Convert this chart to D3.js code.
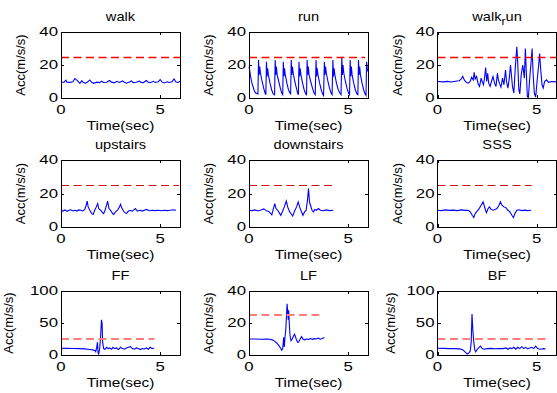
<!DOCTYPE html>
<html>
<head>
<meta charset="utf-8">
<script src="https://cdn.jsdelivr.net/npm/d3@7"></script>
<style>
  body { margin: 0; background: #fff; }
  svg { display: block; }
  text { font-family: "Liberation Sans", Arial, sans-serif; fill: #000; }
</style>
</head>
<body>
<svg id="chart"></svg>
<script>
// Titres des sous-graphiques
const titles = ["walk", "run", "walk_run", "upstairs", "downstairs", "SSS", "FF", "LF", "BF"];
const yMax = [40, 40, 40, 40, 40, 40, 100, 40, 100];
const yTicks40 = [0, 20, 40];
const yTicks100 = [0, 50, 100];
const xTicks = [0, 5];
const threshold = 25;
const thresholdEnd = [6, 5.85, 6, 5.95, 4.25, 4.75, 4.7, 3.55, 5.45];

// Signaux [temps (s), accélération (m/s/s)]
const walk = [[0,9.5],[0.15,9.6],[0.25,10.8],[0.3,9.6],[0.45,9.5],[0.6,9.8],[0.7,11.8],[0.78,11.0],[0.85,10.2],[0.95,8.9],[1.05,10.5],[1.12,9.4],[1.25,9.0],[1.35,9.8],[1.45,10.9],[1.55,9.5],[1.65,8.9],[1.8,9.6],[1.95,9.3],[2.05,10.2],[2.15,9.4],[2.3,9.5],[2.45,10.6],[2.55,9.6],[2.7,9.2],[2.8,10.1],[2.95,9.4],[3.1,10.3],[3.2,9.5],[3.3,9.0],[3.45,9.7],[3.55,10.3],[3.65,9.3],[3.8,9.5],[3.95,10.2],[4.05,9.4],[4.15,9.3],[4.3,10.6],[4.4,9.6],[4.5,9.3],[4.65,10.1],[4.75,9.4],[4.9,9.8],[5.0,11.2],[5.1,9.6],[5.2,9.1],[5.35,9.8],[5.45,9.4],[5.6,9.9],[5.7,11.5],[5.8,9.7],[5.9,9.4],[6.0,10.2]];

const run = [[0,19],[0.03,17],[0.08,13],[0.15,9],[0.25,5],[0.33,3],[0.45,2.5],
  [0.48,23],[0.51,14],[0.54,19],[0.58,15],[0.66,10],[0.74,6],[0.81,3],[0.85,2],
  [0.88,22],[0.91,13],[0.94,18],[0.98,14],[1.06,9],[1.14,5],[1.22,2.5],[1.29,2],
  [1.32,23],[1.35,14],[1.38,19],[1.42,14],[1.5,10],[1.58,6],[1.65,3],[1.7,2],
  [1.73,22],[1.76,13],[1.79,18],[1.83,14],[1.91,9],[1.99,5],[2.06,3],[2.1,2.5],
  [2.13,23],[2.16,14],[2.19,19],[2.23,15],[2.31,10],[2.39,6],[2.45,3],[2.49,2],
  [2.52,22],[2.55,13],[2.58,18],[2.62,14],[2.7,9],[2.78,5],[2.86,2.5],[2.9,2],
  [2.93,23],[2.96,14],[2.99,19],[3.03,14],[3.11,10],[3.2,6],[3.28,3],[3.34,2],
  [3.38,23],[3.41,13],[3.44,18],[3.48,14],[3.56,9],[3.64,5],[3.71,2.5],[3.76,1.5],
  [3.8,22],[3.83,14],[3.86,19],[3.9,15],[3.98,10],[4.06,6],[4.14,3],[4.19,2],
  [4.23,23],[4.26,13],[4.29,18],[4.33,14],[4.41,9],[4.5,5],[4.58,3],[4.64,2],
  [4.68,25],[4.71,14],[4.74,20],[4.78,15],[4.86,10],[4.94,6],[5.02,3],[5.07,2],
  [5.1,23],[5.13,13],[5.16,19],[5.2,14],[5.28,9],[5.36,5],[5.44,2.5],[5.49,2],
  [5.52,23],[5.55,14],[5.58,19],[5.62,14],[5.7,9],[5.78,5],[5.85,2.5],[5.9,1.5],
  [5.93,22],[5.96,18],[6.0,16]];

const walkRun = [[0,10],[0.3,9.8],[0.5,10.1],[0.7,9.7],[0.9,10.2],[1.1,10.5],[1.2,11.5],[1.27,13.2],[1.35,11],[1.45,9.5],[1.55,9],[1.65,10],[1.72,12.5],[1.8,11],[1.85,15.5],[1.9,11.5],[1.97,13],[2.05,8.5],[2.12,7],[2.2,12],[2.25,10],[2.32,8],[2.38,13],[2.43,18.5],[2.48,10],[2.53,15],[2.58,9],[2.65,7],[2.72,10],[2.8,13],[2.88,9],[2.95,7],[3.02,15],[3.07,11],[3.12,9],[3.2,6.5],[3.28,12],[3.35,8],[3.43,17],[3.48,10],[3.55,6],[3.62,12],[3.68,20],[3.72,15],[3.78,7],[3.85,3],[3.92,18],[4.0,31],[4.05,20],[4.1,5],[4.15,2.5],[4.22,14],[4.3,20],[4.38,12],[4.43,30],[4.48,15],[4.53,1],[4.58,0],[4.65,12],[4.72,22],[4.77,30],[4.82,15],[4.88,3],[4.95,0.5],[5.02,10],[5.1,20],[5.15,27],[5.2,18],[5.27,8],[5.33,6],[5.4,10],[5.5,11],[5.6,9.5],[5.75,10],[5.9,9.8],[6.0,10]];

const upstairs = [[0,10],[0.1,9.5],[0.2,10.2],[0.3,9.4],[0.4,10],[0.5,10.3],[0.6,9.6],[0.7,10],[0.8,9.5],[0.9,10.2],[1.0,10],[1.1,9.6],[1.2,10.5],[1.27,13],[1.32,15.5],[1.37,12],[1.45,10],[1.55,8],[1.62,7.5],[1.7,10],[1.78,12],[1.85,14],[1.9,11],[2.0,10],[2.1,8.5],[2.15,8],[2.22,10],[2.3,13],[2.35,15.5],[2.42,11],[2.5,10],[2.6,8],[2.65,7.5],[2.75,9],[2.85,10],[2.95,12],[3.0,13.5],[3.08,11],[3.18,9],[3.3,8],[3.4,9.5],[3.5,9.8],[3.6,9.5],[3.75,11],[3.85,9.5],[4.0,10],[4.1,9.5],[4.2,10],[4.3,10.5],[4.45,9.7],[4.6,10],[4.75,9.8],[4.9,10],[5.05,9.7],[5.2,10],[5.35,9.8],[5.5,10],[5.65,10.3],[5.8,10]];

const downstairs = [[0,10],[0.15,9.8],[0.3,10.2],[0.45,9.6],[0.6,10.1],[0.75,10.8],[0.82,10.2],[0.9,9.5],[1.0,9.2],[1.1,8],[1.15,7.3],[1.22,10.5],[1.3,14],[1.36,11],[1.45,10],[1.55,8],[1.6,7],[1.68,9],[1.78,12],[1.88,15.5],[1.95,12],[2.05,9],[2.15,7.5],[2.2,6.5],[2.3,9.5],[2.4,12],[2.48,15],[2.55,12],[2.65,9],[2.72,7],[2.8,9],[2.88,10],[2.95,16],[3.0,23],[3.05,15],[3.1,13],[3.18,10],[3.25,9],[3.32,10.5],[3.4,10],[3.5,11],[3.6,10],[3.75,9.7],[3.9,10.2],[4.05,9.8],[4.25,10]];

const sss = [[0,10],[0.2,9.8],[0.4,10.2],[0.6,9.9],[0.8,10.1],[1.0,9.8],[1.2,10.2],[1.4,9.9],[1.55,10],[1.65,9],[1.75,7],[1.83,5.6],[1.9,8],[2.0,9.5],[2.1,11],[2.2,13],[2.3,15],[2.35,13],[2.42,10],[2.47,8.5],[2.55,11],[2.62,12],[2.7,10.5],[2.8,10],[2.9,10.5],[3.0,11],[3.1,13],[3.17,15],[3.25,13],[3.35,12],[3.45,11.5],[3.55,10],[3.65,9],[3.75,7],[3.83,5.6],[3.9,8],[4.0,10],[4.1,10.3],[4.25,9.8],[4.4,10.1],[4.55,9.8],[4.72,10]];

const ff = [[0,10.5],[0.3,10.4],[0.6,10.2],[0.9,10],[1.2,9.5],[1.45,8.5],[1.6,8],[1.7,7],[1.75,5],[1.8,12],[1.84,20],[1.87,3],[1.9,1.5],[1.95,10],[2.0,30],[2.04,55],[2.07,50],[2.1,20],[2.15,10],[2.22,9],[2.3,12],[2.38,10],[2.45,11],[2.55,9],[2.62,12],[2.7,10],[2.8,11],[2.9,8.5],[3.0,12],[3.1,10],[3.2,9],[3.3,11],[3.4,12],[3.5,13],[3.6,10],[3.7,9],[3.8,11],[3.9,10],[4.0,8.5],[4.1,10],[4.2,9.5],[4.3,11],[4.4,9],[4.5,12],[4.6,10],[4.7,11]];

const lf = [[0,10],[0.3,10],[0.6,9.8],[0.9,10],[1.05,9.8],[1.2,9.3],[1.3,8.5],[1.4,7.5],[1.5,6],[1.58,4.5],[1.65,3],[1.7,4],[1.75,11],[1.78,5],[1.82,12],[1.85,15],[1.88,22],[1.92,32],[1.95,27],[1.98,22],[2.0,28],[2.03,20],[2.07,12],[2.12,9],[2.18,10],[2.25,12],[2.3,13],[2.38,10],[2.45,8],[2.5,8],[2.58,10],[2.65,11.5],[2.72,10],[2.8,9.5],[2.9,10],[3.0,9.8],[3.1,10.3],[3.2,9.8],[3.3,10.2],[3.4,10],[3.5,10.5],[3.6,9.9],[3.7,10.3],[3.8,11]];

const bf = [[0,10.5],[0.3,10.3],[0.6,10],[0.9,10],[1.1,9.5],[1.25,8.5],[1.35,6],[1.45,3],[1.5,1.5],[1.58,3],[1.65,6],[1.7,20],[1.74,64],[1.78,40],[1.83,20],[1.88,8],[1.93,5],[2.0,9],[2.1,12],[2.17,14],[2.25,10],[2.35,9],[2.5,10],[2.7,10.3],[2.9,9.8],[3.1,10.2],[3.3,10],[3.45,11],[3.55,9],[3.65,11],[3.75,10],[3.85,12],[3.95,9],[4.05,12],[4.15,10],[4.25,13],[4.35,10],[4.45,12],[4.55,9.5],[4.65,11],[4.75,12],[4.85,10],[4.95,14],[5.05,10],[5.15,9],[5.25,9.5],[5.35,10],[5.45,9.5]];

const series = [walk, run, walkRun, upstairs, downstairs, sss, ff, lf, bf];

// Mise en page (grille 3x3)
const width = 557, height = 393;
const colLeft = [61, 249, 437.5];
const plotW = 119;
const rowTop = [32, 160, 291];
const rowH = [66, 67, 64];
const redStyle = [
  {color: "#ff0000", w: 1.3},
  {color: "#cc1111", w: 1},
  {color: "#ff7f7f", w: 2}
];

const svg = d3.select("#chart")
    .attr("width", width)
    .attr("height", height);

function label(g, txt, x, y, size, sx, anchor) {
  return g.append("text")
    .attr("transform", `translate(${x},${y}) scale(${sx},1)`)
    .attr("text-anchor", anchor)
    .style("font-size", size + "px")
    .text(txt);
}

series.forEach((data, i) => {
  const r = Math.floor(i / 3), c = i % 3;
  const x0 = colLeft[c], y0 = rowTop[r], h = rowH[r];
  const x = d3.scaleLinear().domain([0, 6]).range([x0, x0 + plotW]);
  const y = d3.scaleLinear().domain([0, yMax[i]]).range([y0 + h, y0]);
  const yTicks = yMax[i] === 100 ? yTicks100 : yTicks40;
  const g = svg.append("g");

  // signal
  g.append("path")
    .datum(data)
    .attr("d", d3.line().x(d => x(d[0])).y(d => y(d[1])))
    .attr("fill", "none")
    .attr("stroke", "#0000ff")
    .attr("stroke-width", 1.1);

  // seuil 25 m/s/s
  const yt = r === 2 ? Math.round(y(threshold)) : Math.round(y(threshold)) + 0.5;
  g.append("line")
    .attr("x1", x(0)).attr("x2", x(thresholdEnd[i]))
    .attr("y1", yt).attr("y2", yt)
    .attr("stroke", redStyle[r].color)
    .attr("stroke-width", redStyle[r].w)
    .attr("stroke-dasharray", "8,4.5");

  // cadre
  g.append("rect")
    .attr("x", x0).attr("y", y0).attr("width", plotW).attr("height", h)
    .attr("fill", "none").attr("stroke", "#000").attr("stroke-width", 1)
    .attr("shape-rendering", "crispEdges");

  // graduations vers l'intérieur sur les 4 côtés
  const noDomain = a => a.select(".domain").remove();
  g.append("g").attr("transform", `translate(0,${y0 + h})`)
    .call(d3.axisBottom(x).tickValues(xTicks).tickSize(-3).tickFormat("")).call(noDomain);
  g.append("g").attr("transform", `translate(0,${y0})`)
    .call(d3.axisTop(x).tickValues(xTicks).tickSize(-3).tickFormat("")).call(noDomain);
  g.append("g").attr("transform", `translate(${x0},0)`)
    .call(d3.axisLeft(y).tickValues(yTicks).tickSize(-3).tickFormat("")).call(noDomain);
  g.append("g").attr("transform", `translate(${x0 + plotW},0)`)
    .call(d3.axisRight(y).tickValues(yTicks).tickSize(-3).tickFormat("")).call(noDomain);
  g.selectAll(".tick line").attr("stroke", "#000").attr("shape-rendering", "crispEdges");

  // étiquettes
  yTicks.forEach(v => label(g, v, x0 - 3, y(v) + 4.3, 12, 1.4, "end"));
  xTicks.forEach(v => label(g, v, x(v), y0 + h + 16, 12, 1.4, "middle"));
  label(g, "Time(sec)", x0 + plotW / 2, y0 + h + 31.5, 12, 1.28, "middle");

  const t = label(g, "", x0 + plotW / 2, y0 - 11.5, 12, 1.22, "middle");
  if (titles[i] === "walk_run") {
    t.append("tspan").text("walk");
    t.append("tspan").attr("dy", 4).style("font-size", "10px").text("r");
    t.append("tspan").attr("dy", -4).text("un");
  } else {
    t.text(titles[i]);
  }

  const yOff = yMax[i] === 100 ? (c === 0 ? 48 : 43) : 36;
  g.append("text")
    .attr("transform", `translate(${x0 - yOff},${y0 + h / 2}) rotate(-90)`)
    .attr("text-anchor", "middle")
    .style("font-size", "13px")
    .text("Acc(m/s/s)");
});
</script>
</body>
</html>
